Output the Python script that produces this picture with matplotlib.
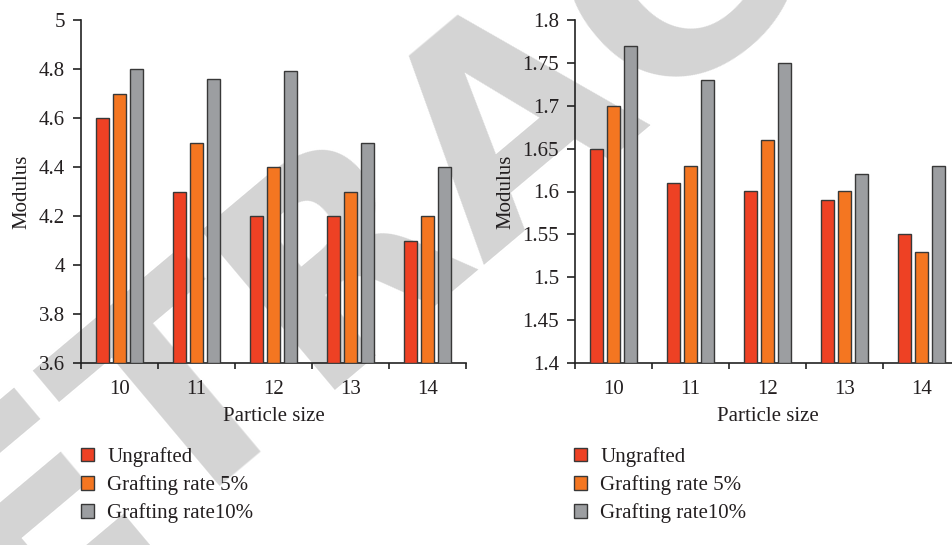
import matplotlib
matplotlib.use("Agg")
import matplotlib.pyplot as plt
from matplotlib.patches import Patch
import numpy as np

categories = ["10", "11", "12", "13", "14"]
series_names = ["Ungrafted", "Grafting rate 5%", "Grafting rate10%"]
left_ungrafted = [4.6, 4.3, 4.2, 4.2, 4.1]
left_graft5 = [4.7, 4.5, 4.4, 4.3, 4.2]
left_graft10 = [4.8, 4.76, 4.79, 4.5, 4.4]
right_ungrafted = [1.65, 1.61, 1.60, 1.59, 1.55]
right_graft5 = [1.70, 1.63, 1.66, 1.60, 1.53]
right_graft10 = [1.77, 1.73, 1.75, 1.62, 1.63]
left_yticks = [3.6, 3.8, 4.0, 4.2, 4.4, 4.6, 4.8, 5.0]
right_yticks = [1.4, 1.45, 1.5, 1.55, 1.6, 1.65, 1.7, 1.75, 1.8]

colors = ["#EE4124", "#F47621", "#9C9EA1"]
edge = "#383838"

plt.rcParams['font.family'] = ['Liberation Serif', 'DejaVu Serif']
FS = 15

fig = plt.figure(figsize=(9.53, 5.45), dpi=100)
fig.text(0.54, 0.79, "RETRACTED", fontsize=205, fontweight='bold',
         family='DejaVu Sans', color='#D4D4D4', rotation=40,
         ha='center', va='center', zorder=-10)

W, H = 953, 545
def axpos(x0, x1, ytop, ybot):
    return [x0 / W, 1 - ybot / H, (x1 - x0) / W, (ybot - ytop) / H]

ax1 = fig.add_axes(axpos(81, 466, 20, 363))
ax2 = fig.add_axes(axpos(575, 960, 20, 363))

def draw(ax, vals, ylim, yticks):
    ax.patch.set_alpha(0)
    x = np.arange(len(categories))
    off = 0.22
    w = 0.175
    for i, v in enumerate(vals):
        ax.bar(x + (i - 1) * off, np.array(v) - ylim[0], w, bottom=ylim[0],
               color=colors[i], edgecolor=edge, linewidth=1.0, zorder=3)
    ax.set_xlim(-0.5, len(categories) - 0.5)
    ax.set_ylim(*ylim)
    ax.set_yticks(yticks)
    ax.set_yticklabels(["%g" % t for t in yticks])
    ax.set_xticks(x)
    ax.set_xticklabels(categories)
    ax.set_xticks(np.arange(-0.5, len(categories) + 0.5, 1), minor=True)
    ax.tick_params(axis='x', which='major', length=0, labelsize=FS, pad=12)
    ax.tick_params(axis='x', which='minor', length=4.5, width=1.2, direction='out', color='#222222')
    ax.tick_params(axis='y', length=5.5, width=1.2, direction='out', labelsize=FS, pad=6, color='#222222')
    for s in ['top', 'right']:
        ax.spines[s].set_visible(False)
    for s in ['left', 'bottom']:
        ax.spines[s].set_linewidth(1.2)
        ax.spines[s].set_color('#222222')
    ax.set_xlabel("Particle size", fontsize=FS, labelpad=6, color='#231F20')
    ax.set_ylabel("Modulus", fontsize=FS, labelpad=5, color='#231F20')
    for lab in ax.get_xticklabels() + ax.get_yticklabels():
        lab.set_color('#231F20')

draw(ax1, [left_ungrafted, left_graft5, left_graft10], (3.6, 5.0), left_yticks)
draw(ax2, [right_ungrafted, right_graft5, right_graft10], (1.4, 1.8), right_yticks)

handles = [Patch(facecolor=c, edgecolor=edge, linewidth=1.0) for c in colors]
for xleft in (81, 574):
    leg = fig.legend(handles, series_names, loc='upper left',
                     bbox_to_anchor=(xleft / W, 1 - 447 / H), frameon=False,
                     fontsize=FS, handlelength=0.62, handleheight=0.62,
                     handletextpad=0.65, labelspacing=0.4, borderpad=0, borderaxespad=0)
    for t in leg.get_texts():
        t.set_color('#231F20')

fig.savefig("out.png", dpi=100)
